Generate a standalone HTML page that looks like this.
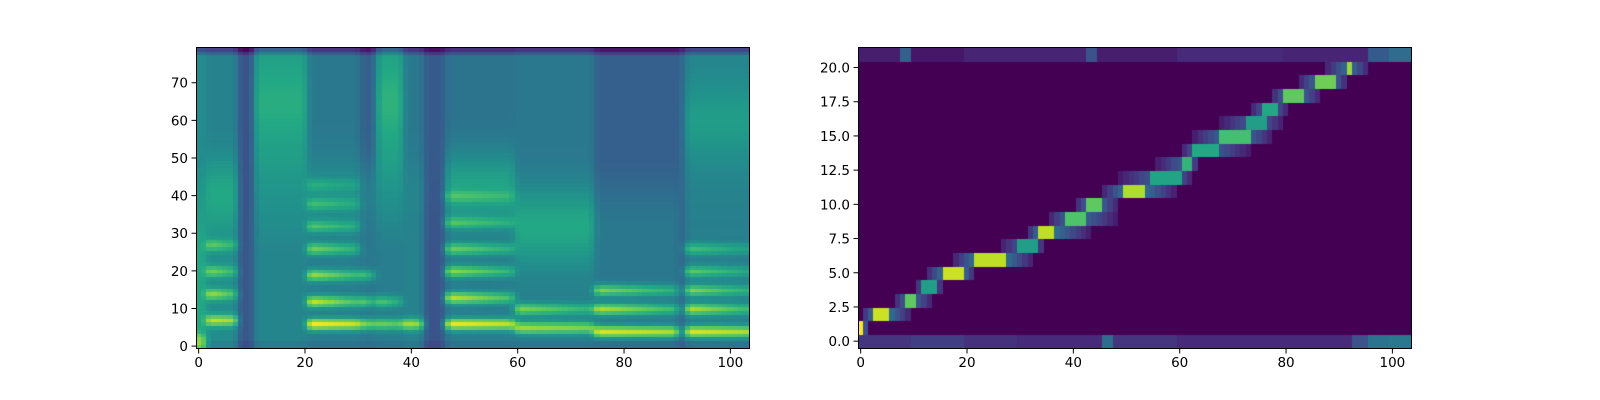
<!DOCTYPE html>
<html><head><meta charset="utf-8">
<style>
body{margin:0;background:#fff;width:1600px;height:400px;overflow:hidden;font-family:"DejaVu Sans","Liberation Sans",sans-serif;}
canvas{position:absolute;}
svg{position:absolute;left:0;top:0;}
</style></head>
<body>
<canvas id="c1" width="553" height="301" style="left:196px;top:47px;width:553px;height:301px"></canvas>
<canvas id="c2" width="553" height="301" style="left:858px;top:47px;width:553px;height:301px"></canvas>
<svg id="ax" width="1600" height="400"></svg>
<script>
// ---- left spectrogram data (segments of columns) ----
const segStart = [0, 2, 8, 11, 21, 31, 34, 39, 43, 47, 60, 75, 91, 92];
const segEnd   = [1, 7, 10, 20, 30, 33, 38, 42, 46, 59, 74, 90, 91, 103];
const segLow   = [0.60,0.48,0.27,0.45,0.42,0.40,0.42,0.44,0.26,0.42,0.43,0.40,0.30,0.42];
const segHigh  = [0.48,0.44,0.26,0.55,0.40,0.30,0.56,0.40,0.28,0.38,0.40,0.30,0.32,0.45];
const segBands = [[1,2],[7,14,20,27],[],[],[6,12,19,26,32,38,43],[6,12,19],[6,12],[6],[],[6,13,20,26,33,40],[5,10],[4,10,15],[],[4,10,15,20,26]];
const segBandPeak = [0.85,0.92,0,0,1.0,0.8,0.78,0.88,0,0.98,0.86,0.95,0,0.95];
const segFormRow = [10,40,0,65,40,40,65,40,0,42,32,30,0,60];
const segFormVal = [0.6,0.6,0,0.62,0.5,0.42,0.64,0.45,0,0.58,0.6,0.4,0,0.55];
// ---- right alignment data (rows 1..20) ----
const alRow   = [1,2,3,4,5,6,7,8,9,10,11,12,13,14,15,16,17,18,19,20];
const pkStart = [0,3,9,12,16,22,30,34,39,43,50,55,61,63,68,73,76,80,86,92];
const pkEnd   = [0,5,10,14,19,27,33,36,42,45,53,60,62,67,73,76,78,83,89,92];
const pkVal   = [1.0,0.92,0.75,0.55,0.92,0.9,0.55,0.9,0.72,0.75,0.88,0.58,0.65,0.6,0.7,0.55,0.6,0.75,0.78,0.85];
const spStart = [0,1,7,11,13,18,27,32,36,41,46,49,56,61,63,68,74,78,83,88];
const spEnd   = [1,9,13,15,21,32,34,43,48,48,59,62,63,73,77,79,80,86,91,95];
const row0Cols = [0,10,20,30,46,48,60,80,93,96,100];
const row0Vals = [0.15,0.18,0.14,0.12,0.35,0.15,0.12,0.12,0.25,0.38,0.4];
const row21Cols = [0,8,10,20,43,45,60,80,96,100];
const row21Vals = [0.08,0.3,0.06,0.1,0.25,0.08,0.12,0.1,0.28,0.35];

const VIR=[[68,1,84],[72,36,117],[65,68,135],[53,95,141],[42,120,142],[33,145,140],[34,168,132],[68,191,112],[122,209,81],[189,223,38],[253,231,37]];
function vir(v){v=Math.max(0,Math.min(1,v))*10;const i=Math.min(9,Math.floor(v)),f=v-i;const a=VIR[i],b=VIR[i+1];
return `rgb(${Math.round(a[0]+(b[0]-a[0])*f)},${Math.round(a[1]+(b[1]-a[1])*f)},${Math.round(a[2]+(b[2]-a[2])*f)})`;}

// left
const NC=104,NR=80;
const c1=document.getElementById('c1').getContext('2d');
const cw=553/NC, rh1=301/NR;
const G=[];for(let c=0;c<NC;c++)G.push(new Array(NR).fill(0));
for(let s=0;s<segStart.length;s++){
  const len=segEnd[s]-segStart[s]+1;
  for(let c=segStart[s];c<=segEnd[s];c++){
    const pos=len>1?(c-segStart[s])/(len-1):0;
    for(let r=0;r<NR;r++){
      let t=Math.max(0,Math.min(1,(r-25)/25));
      let v=segLow[s]*(1-t)+segHigh[s]*t;
      if(segFormVal[s]>0){const d=(r-segFormRow[s])/7;const w=Math.exp(-d*d/2);v=v+(segFormVal[s]-v)*w;}
      if(r<2 && s!==0) v-=0.04;
      segBands[s].forEach((b,k)=>{const d=r-b;const w=Math.exp(-d*d/(2*1.1*1.1));
        const fade=k===0?1-0.15*pos:1-0.45*pos;
        const amp=(segBandPeak[s]-v)*(1-k*0.12)*fade;if(amp>0)v=v+amp*w;});
      if(r>=78) v-=0.12*(r-77);
      G[c][r]=v;
    }
  }
}
for(let c=0;c<NC;c++)for(let r=0;r<NR;r++){
  const a=G[Math.max(0,c-1)][r],b=G[c][r],d=G[Math.min(NC-1,c+1)][r];
  c1.fillStyle=vir(0.2*a+0.6*b+0.2*d);
  c1.fillRect(Math.floor(c*cw),Math.floor(301-(r+1)*rh1),Math.ceil(cw)+1,Math.ceil(rh1)+1);
}
// right
const NR2=22, rh2=301/NR2;
const c2=document.getElementById('c2').getContext('2d');
const grid=[];for(let r=0;r<NR2;r++){grid.push(new Array(NC).fill(0));}
function interp(cols,vals,c){for(let i=0;i<cols.length-1;i++){if(c>=cols[i]&&c<cols[i+1])return vals[i];}return vals[vals.length-1];}
for(let c=0;c<NC;c++){grid[0][c]=interp(row0Cols,row0Vals,c);grid[21][c]=interp(row21Cols,row21Vals,c);}
for(let i=0;i<alRow.length;i++){
  const r=alRow[i];
  for(let c=spStart[i];c<=spEnd[i];c++){
    let v;
    if(c>=pkStart[i]&&c<=pkEnd[i]) v=pkVal[i];
    else{const d=c<pkStart[i]?pkStart[i]-c:c-pkEnd[i];const span=c<pkStart[i]?pkStart[i]-spStart[i]+1:spEnd[i]-pkEnd[i]+1;
      v=pkVal[i]*0.4*(1-d/span)+0.04;}
    grid[r][c]=Math.max(grid[r][c],v);
  }
}
for(let r=0;r<NR2;r++)for(let c=0;c<NC;c++){
  c2.fillStyle=vir(grid[r][c]);
  c2.fillRect(Math.floor(c*cw),Math.floor(301-(r+1)*rh2),Math.ceil(cw)+1,Math.ceil(rh2)+1);
}

// axes
const svg=document.getElementById('ax');const NS='http://www.w3.org/2000/svg';
function mk(tag,attrs,name){const e=document.createElementNS(NS,tag);for(const k in attrs)e.setAttribute(k,attrs[k]);


svg.appendChild(e);return e;}
const xTicks=[0,20,40,60,80,100];
const yTicksL=[0,10,20,30,40,50,60,70];
const yTicksR=[0,2.5,5,7.5,10,12.5,15,17.5,20];
function drawAxes(x0,nRows,yTicks,fmt,pfx){
  mk('rect',{x:x0+0.5,y:47.5,width:553,height:301,fill:'none',stroke:'#000','stroke-width':1},pfx+'-frame');
  xTicks.forEach(t=>{const x=x0+(t+0.5)*cw;
    mk('line',{x1:x,x2:x,y1:348.5,y2:353.5,stroke:'#000'},pfx+'-x-tick');
    const tx=mk('text',{x:x,y:367,'text-anchor':'middle','font-size':'13.5px',fill:'#000'},pfx+'-x-tick-label');tx.textContent=t;});
  yTicks.forEach(t=>{const y=348-(t+0.5)*301/nRows;
    mk('line',{x1:x0-4.5,x2:x0+0.5,y1:y,y2:y,stroke:'#000'},pfx+'-y-tick');
    const tx=mk('text',{x:x0-8,y:y+5,'text-anchor':'end','font-size':'13.5px',fill:'#000'},pfx+'-y-tick-label');tx.textContent=fmt(t);});
}
drawAxes(196,80,yTicksL,t=>String(t),'left');
drawAxes(858,22,yTicksR,t=>t.toFixed(1),'right');
</script>
</body></html>
